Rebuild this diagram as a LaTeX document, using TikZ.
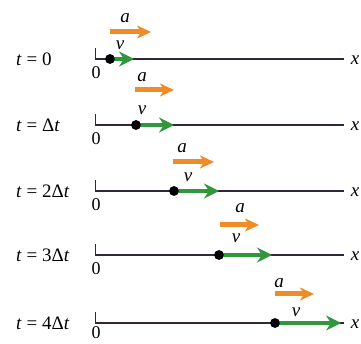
\documentclass[tikz,border=0pt]{standalone}
\usepackage{fontspec}
\setmainfont{Liberation Serif}
\usetikzlibrary{arrows.meta}
\definecolor{accor}{RGB}{240,140,40}
\definecolor{velgr}{RGB}{50,150,60}
\definecolor{axc}{RGB}{50,40,60}
\begin{document}
\begin{tikzpicture}[x=1pt,y=-1pt,
  axisline/.style={draw=axc,line width=1.3pt},
  tickline/.style={draw=axc,line width=1pt},
  velarrow/.style={draw=velgr,line width=4.5pt,-{Stealth[length=15pt,width=15pt,inset=5pt]}},
  accarrow/.style={draw=accor,line width=5pt,-{Stealth[length=14pt,width=13pt,inset=4pt]}},
  dotnode/.style={circle,fill=black,inner sep=0pt,minimum size=9.5pt},
  lbl/.style={font=\fontsize{19}{22}\selectfont,inner sep=0pt},
  small/.style={font=\fontsize{19}{22}\selectfont\itshape,inner sep=0pt},
  zero/.style={font=\fontsize{18}{21}\selectfont,inner sep=0pt}]
\useasboundingbox (0,0) rectangle (361,344);
\foreach \n/\yy/\dx/\gx/\ax/\aex/\ay/\alx/\aly/\vlx/\vly/\tl in {
  1/59/110/134/110/151/32/125/18/120/45/{0},
  2/125/136/174/135/174/90/142/77/142/110/{Δ\textit{t}},
  3/191/174/219/173/214/162/182/148/188/177/{2Δ\textit{t}},
  4/255/219/272/220/259/225/240/208/236/238/{3Δ\textit{t}},
  5/323/275/341/275/314/294/279/283/296/312/{4Δ\textit{t}}} {
  \node[lbl,anchor=west] (t\n) at (16,\yy) {\textit{t} = \tl};
  \coordinate (o\n) at (95,\yy);
  \coordinate (ot\n) at (95,\yy-11);
  \coordinate (e\n) at (344,\yy);
  \node[zero] (z\n) at (96,{min(\yy+14,333)}) {0};
  \node[small] (x\n) at (355,\yy+1) {x};
  \draw[axisline] (o\n) -- (e\n);
  \draw[tickline] (o\n) -- (ot\n);
  \node[dotnode] (d\n) at (\dx,\yy) {};
  \coordinate (g\n) at (\gx,\yy);
  \draw[velarrow] (d\n.center) -- (g\n);
  \node[dotnode] at (d\n) {};
  \coordinate (as\n) at (\ax,\ay);
  \coordinate (ae\n) at (\aex,\ay);
  \draw[accarrow] (as\n) -- (ae\n);
  \node[small] (a\n) at (\alx,\aly) {a};
  \node[small] (v\n) at (\vlx,\vly) {v};
}
\end{tikzpicture}
\end{document}
